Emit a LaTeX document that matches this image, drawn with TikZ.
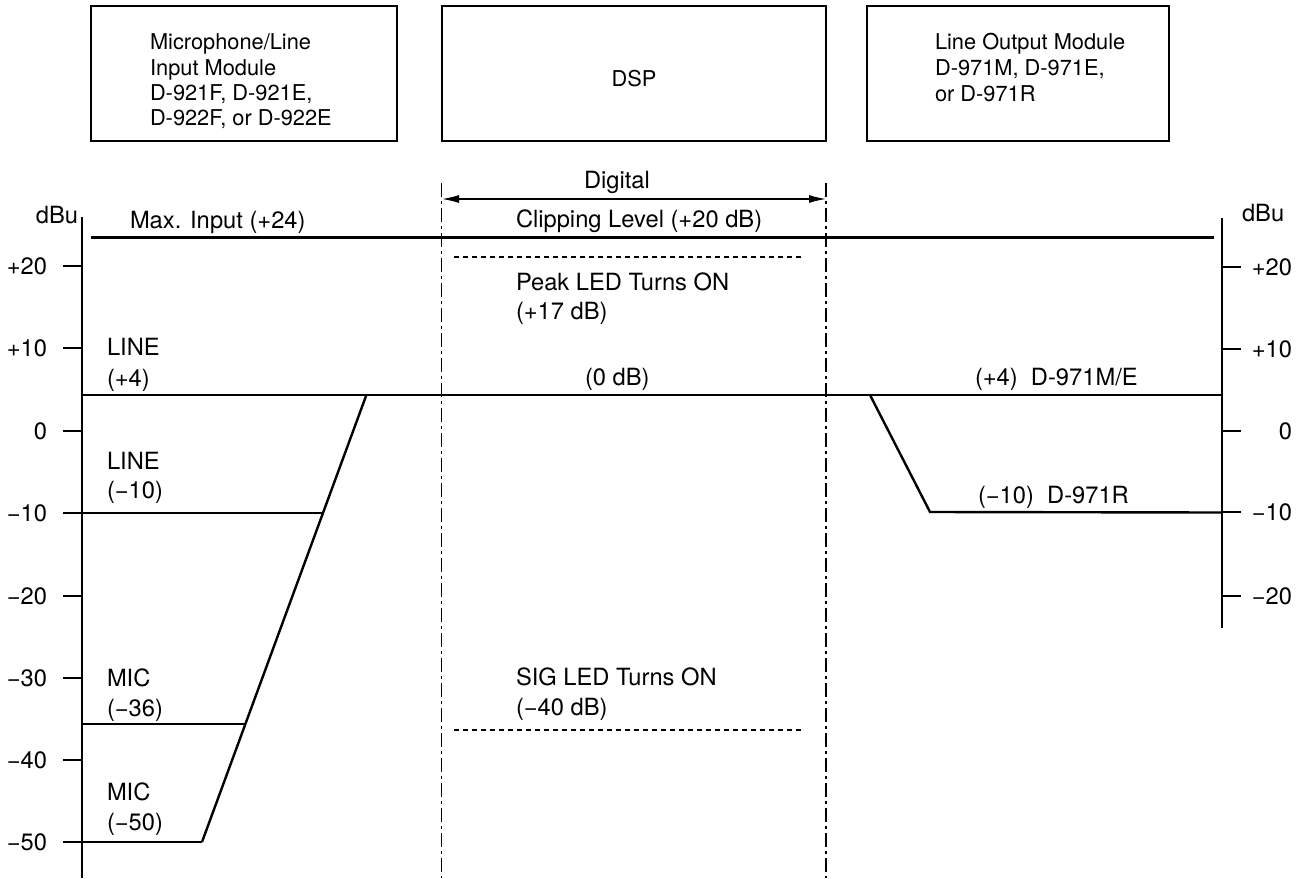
\documentclass[tikz,border=0pt]{standalone}
\usepackage{fontspec}
\setmainfont{TeX Gyre Heros}
\usetikzlibrary{arrows.meta}
\begin{document}
\begin{tikzpicture}[x=1pt,y=-1pt,
  lbl/.style={inner sep=0pt, outer sep=0pt, text height=17.1pt, text depth=0pt, font=\fontsize{23.7}{28}\selectfont, anchor=west},
  rlbl/.style={lbl, anchor=east},
  boxlbl/.style={inner sep=0pt, outer sep=0pt, text height=15.7pt, text depth=0pt, font=\fontsize{21.8}{25}\selectfont, anchor=west},
  modbox/.style={draw, line width=1.4pt, inner sep=0pt, outer sep=0pt, anchor=north west},
  thickline/.style={line width=2.4pt},
  axisline/.style={line width=1.3pt},
  dashdotline/.style={line width=1.3pt, dash pattern=on 14pt off 4pt on 3pt off 4pt},
  dashline/.style={line width=1.2pt, dash pattern=on 5pt off 4pt},
  arrowline/.style={line width=1.3pt, {Latex[length=17pt,width=8pt]}-{Latex[length=17pt,width=8pt]}}
]
\useasboundingbox (0,0) rectangle (1306,878);

% module boxes
\node[modbox, minimum width=306pt, minimum height=135pt] (box1) at (91,6) {};
\node[modbox, minimum width=384pt, minimum height=135pt] (box2) at (442,6) {};
\node[modbox, minimum width=302pt, minimum height=135pt] (box3) at (867,6) {};

\node[boxlbl] (b1a) at (150,42) {Microphone/Line};
\node[boxlbl] (b1b) at (150,68) {Input Module};
\node[boxlbl] (b1c) at (150,93) {D-921F, D-921E,};
\node[boxlbl] (b1d) at (150,118) {D-922F, or D-922E};
\node[boxlbl, anchor=center] (dsp) at (634,79) {DSP};
\node[boxlbl] (b3a) at (935,42) {Line Output Module};
\node[boxlbl] (b3b) at (935,68) {D-971M, D-971E,};
\node[boxlbl] (b3c) at (935,94) {or D-971R};

% digital boundaries
\coordinate (dlt) at (441.5,183);
\coordinate (dlb) at (441.5,878);
\coordinate (drt) at (826,183);
\coordinate (drb) at (826,878);
\draw[dashdotline] (dlt) -- (dlb);
\draw[dashdotline] (drt) -- (drb);
\coordinate (arl) at (442,199);
\coordinate (arr) at (826,199);
\draw[arrowline] (arl) -- (arr);
\node[lbl, anchor=center] (digital) at (617,180) {Digital};

% left axis
\coordinate (lat) at (82,217);
\coordinate (lab) at (82,878);
\draw[axisline] (lat) -- (lab);
\node[lbl, anchor=east] (ldbu) at (78,215) {dBu};
\foreach \v/\yy/\nm in {+20/266/a,+10/348/b,0/431/c,−10/513/d,−20/596/e,−30/678/f,−40/760/g,−50/842/h}{
  \coordinate (lt\nm) at (63,\yy);
  \coordinate (la\nm) at (82,\yy);
  \draw[axisline] (lt\nm) -- (la\nm);
  \node[rlbl] (ll\nm) at (47,\yy) {\v};
}

% right axis
\coordinate (rat) at (1222,218);
\coordinate (rab) at (1222,628);
\draw[axisline] (rat) -- (rab);
\node[lbl] (rdbu) at (1242,213) {dBu};
\foreach \v/\yy/\nm in {+20/267/a,+10/349/b,0/431/c,−10/512/d,−20/596/e}{
  \coordinate (rt\nm) at (1241,\yy);
  \coordinate (ra\nm) at (1222,\yy);
  \draw[axisline] (ra\nm) -- (rt\nm);
  \node[rlbl] (rl\nm) at (1292,\yy) {\v};
}

% clipping / max input line
\coordinate (clipL) at (91,237.5);
\coordinate (clipR) at (1214,237.5);
\draw[thickline] (clipL) -- (clipR);
\node[lbl] (maxin) at (130,220) {Max. Input (+24)};
\node[lbl] (clip) at (516,219) {Clipping Level (+20 dB)};

% peak LED
\coordinate (pkL) at (454,257);
\coordinate (pkR) at (802,257);
\draw[dashline] (pkL) -- (pkR);
\node[lbl] (pk1) at (516,282) {Peak LED Turns ON};
\node[lbl] (pk2) at (516,311) {(+17 dB)};

% +4 line
\coordinate (p4L) at (82,395);
\coordinate (p4R) at (1222,395);
\draw[thickline] (p4L) -- (p4R);
\node[lbl] (line4a) at (107,347) {LINE};
\node[lbl] (line4b) at (107,378) {(+4)};
\node[lbl] (zero) at (585,377) {(0 dB)};
\node[lbl] (out4) at (975,377) {(+4)\ \ D-971M/E};

% input slope
\coordinate (sTop) at (366,396);
\coordinate (sM10) at (323,513);
\coordinate (sM36) at (245,724);
\coordinate (sBot) at (202,842);
\draw[thickline, line join=miter] (sTop) -- (sBot);
\coordinate (m10L) at (82,513);
\coordinate (m36L) at (82,724);
\coordinate (m50L) at (82,842);
\draw[thickline] (m10L) -- (sM10);
\draw[thickline] (m36L) -- (sM36);
\draw[thickline] (m50L) -- (sBot);
\node[lbl] (lineM10a) at (107,461) {LINE};
\node[lbl] (lineM10b) at (107,490) {(−10)};
\node[lbl] (mic36a) at (107,678) {MIC};
\node[lbl] (mic36b) at (107,708) {(−36)};
\node[lbl] (mic50a) at (107,792) {MIC};
\node[lbl] (mic50b) at (107,822) {(−50)};

% output slope
\coordinate (oTop) at (870,395);
\coordinate (oBot) at (930,512);
\coordinate (oEnd) at (1222,512.5);
\draw[thickline] (oTop) -- (oBot) -- (oEnd);
\node[lbl] (out10) at (978,495) {(−10)\ \ D-971R};

% SIG LED
\coordinate (sgL) at (454,730);
\coordinate (sgR) at (802,730);
\draw[dashline] (sgL) -- (sgR);
\node[lbl] (sg1) at (516,677) {SIG LED Turns ON};
\node[lbl] (sg2) at (516,707) {(−40 dB)};
\end{tikzpicture}
\end{document}
